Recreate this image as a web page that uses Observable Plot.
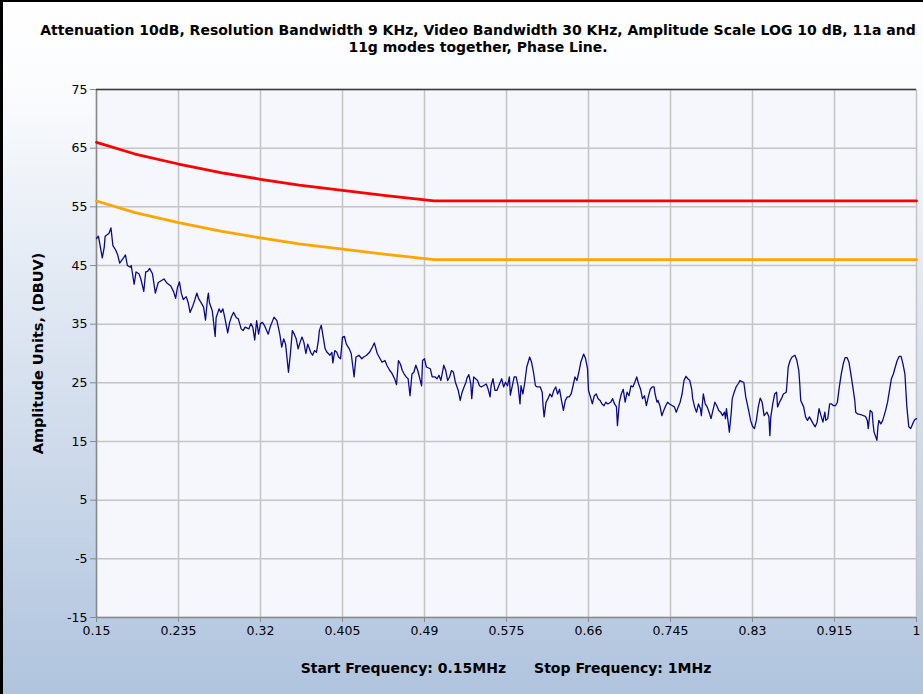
<!DOCTYPE html>
<html>
<head>
<meta charset="utf-8">
<script src="https://cdn.jsdelivr.net/npm/d3@7"></script>
<script src="https://cdn.jsdelivr.net/npm/@observablehq/plot@0.6"></script>
<style>
  html, body { margin: 0; padding: 0; background: #ffffff; }
  #panel {
    position: relative; width: 923px; height: 694px; overflow: hidden;
    background: linear-gradient(to bottom, #ffffff 0%, #fbfcfe 12%, #b0c4de 100%);
    font-family: "DejaVu Sans", sans-serif;
  }
  #edgeTop { position: absolute; left: 0; top: 0; width: 923px; height: 2px; background: #000; }
  #edgeLeft { position: absolute; left: 0; top: 0; width: 3px; height: 694px; background: #000; }
  #title {
    position: absolute; left: 0; top: 22px; width: 956px; text-align: center;
    font-weight: bold; font-size: 14px; line-height: 17px; color: #000;
  }
  #chart { position: absolute; left: 0; top: 62px; }
  #footer {
    position: absolute; left: 96px; top: 659px; width: 820px; text-align: center;
    font-weight: bold; font-size: 14px; line-height: 18px; color: #000; white-space: pre;
  }
  #footer span + span { margin-left: 28px; }
  g[aria-label="y-axis label"] text { font-weight: bold; font-size: 14.5px; }
</style>
</head>
<body>
<div id="panel">
  <div id="title">Attenuation 10dB, Resolution Bandwidth 9 KHz, Video Bandwidth 30 KHz, Amplitude Scale LOG 10 dB, 11a and<br>11g modes together, Phase Line.</div>
  <div id="chart"></div>
  <div id="footer"><span>Start Frequency: 0.15MHz</span><span>Stop Frequency: 1MHz</span></div>
  <div id="edgeTop"></div>
  <div id="edgeLeft"></div>
</div>
<script>
// Axis ticks (MHz and dBuV)
const freqTicks = [0.15, 0.235, 0.32, 0.405, 0.49, 0.575, 0.66, 0.745, 0.83, 0.915, 1];
const levelTicks = [-15, -5, 5, 15, 25, 35, 45, 55, 65, 75];

// Conducted emission limit lines (quasi-peak and average)
const limitFreq = [0.15, 0.19, 0.235, 0.28, 0.32, 0.36, 0.405, 0.45, 0.5, 1];
const quasiPeakLimit = [66, 64.0, 62.3, 60.8, 59.7, 58.7, 57.8, 56.9, 56, 56];
const averageLimit = [56, 54.0, 52.3, 50.8, 49.7, 48.7, 47.8, 46.9, 46, 46];

// Measured sweep, phase line
const traceFreq = [
  0.150, 0.152, 0.156, 0.158, 0.159, 0.163, 0.165, 0.167, 0.170, 0.172,
  0.174, 0.178, 0.180, 0.182, 0.185, 0.186, 0.189, 0.191, 0.194, 0.196,
  0.199, 0.201, 0.203, 0.205, 0.208, 0.211, 0.214, 0.217, 0.220, 0.223,
  0.227, 0.230, 0.232, 0.234, 0.236, 0.238, 0.240, 0.243, 0.245, 0.247,
  0.250, 0.252, 0.254, 0.256, 0.259, 0.261, 0.263, 0.265, 0.266, 0.267,
  0.270, 0.273, 0.274, 0.277, 0.279, 0.281, 0.283, 0.286, 0.288, 0.290,
  0.292, 0.295, 0.297, 0.300, 0.302, 0.304, 0.308, 0.310, 0.312, 0.314,
  0.316, 0.318, 0.320, 0.322, 0.324, 0.328, 0.330, 0.334, 0.337, 0.340,
  0.342, 0.344, 0.346, 0.349, 0.351, 0.353, 0.355, 0.357, 0.359, 0.361,
  0.363, 0.365, 0.367, 0.369, 0.372, 0.374, 0.376, 0.378, 0.380, 0.381,
  0.383, 0.385, 0.387, 0.389, 0.392, 0.394, 0.395, 0.397, 0.399, 0.401,
  0.403, 0.405, 0.407, 0.409, 0.412, 0.414, 0.416, 0.417, 0.419, 0.422,
  0.425, 0.427, 0.430, 0.433, 0.436, 0.438, 0.441, 0.443, 0.446, 0.449,
  0.451, 0.454, 0.456, 0.459, 0.461, 0.463, 0.465, 0.467, 0.469, 0.471,
  0.473, 0.475, 0.477, 0.479, 0.481, 0.483, 0.487, 0.488, 0.490, 0.492,
  0.496, 0.498, 0.501, 0.503, 0.505, 0.507, 0.510, 0.512, 0.514, 0.516,
  0.518, 0.520, 0.522, 0.525, 0.527, 0.529, 0.531, 0.533, 0.534, 0.536,
  0.538, 0.539, 0.541, 0.543, 0.545, 0.547, 0.549, 0.551, 0.554, 0.556,
  0.558, 0.559, 0.561, 0.563, 0.565, 0.567, 0.570, 0.572, 0.574, 0.576,
  0.578, 0.579, 0.581, 0.583, 0.585, 0.587, 0.589, 0.590, 0.592, 0.594,
  0.596, 0.598, 0.599, 0.601, 0.603, 0.605, 0.607, 0.610, 0.612, 0.613,
  0.614, 0.616, 0.618, 0.620, 0.622, 0.624, 0.626, 0.628, 0.630, 0.632,
  0.634, 0.636, 0.638, 0.640, 0.642, 0.644, 0.646, 0.648, 0.650, 0.652,
  0.655, 0.657, 0.659, 0.660, 0.662, 0.664, 0.666, 0.668, 0.670, 0.672,
  0.674, 0.676, 0.678, 0.680, 0.683, 0.685, 0.687, 0.689, 0.690, 0.692,
  0.694, 0.696, 0.698, 0.700, 0.702, 0.704, 0.706, 0.708, 0.710, 0.712,
  0.714, 0.716, 0.718, 0.720, 0.722, 0.724, 0.726, 0.728, 0.729, 0.731,
  0.732, 0.734, 0.736, 0.738, 0.740, 0.742, 0.744, 0.747, 0.749, 0.751,
  0.753, 0.755, 0.757, 0.759, 0.761, 0.763, 0.765, 0.767, 0.768, 0.770,
  0.772, 0.774, 0.776, 0.777, 0.779, 0.781, 0.783, 0.785, 0.787, 0.789,
  0.791, 0.793, 0.795, 0.797, 0.799, 0.801, 0.802, 0.803, 0.805, 0.806,
  0.808, 0.809, 0.811, 0.813, 0.815, 0.817, 0.819, 0.821, 0.823, 0.826,
  0.828, 0.830, 0.832, 0.834, 0.836, 0.838, 0.840, 0.842, 0.845, 0.847,
  0.848, 0.849, 0.851, 0.853, 0.855, 0.856, 0.858, 0.860, 0.862, 0.865,
  0.866, 0.867, 0.869, 0.871, 0.874, 0.876, 0.878, 0.879, 0.880, 0.883,
  0.885, 0.887, 0.889, 0.891, 0.893, 0.895, 0.897, 0.899, 0.901, 0.903,
  0.905, 0.906, 0.908, 0.910, 0.912, 0.914, 0.916, 0.918, 0.920, 0.922,
  0.924, 0.926, 0.928, 0.930, 0.932, 0.934, 0.936, 0.937, 0.939, 0.942,
  0.945, 0.947, 0.949, 0.950, 0.952, 0.954, 0.955, 0.956, 0.959, 0.960,
  0.961, 0.963, 0.965, 0.968, 0.970, 0.972, 0.974, 0.976, 0.978, 0.980,
  0.982, 0.984, 0.986, 0.988, 0.989, 0.990, 0.992, 0.994, 0.996, 0.998,
  1.000
];
const traceLevel = [
  49.6, 50.0, 46.3, 48.1, 50.0, 50.5, 51.4, 48.4, 47.6, 46.8,
  45.4, 46.3, 46.8, 45.0, 44.7, 45.0, 41.8, 43.9, 43.6, 42.7,
  40.6, 43.9, 44.0, 44.5, 43.6, 40.3, 42.1, 42.4, 42.7, 42.0,
  41.5, 40.5, 39.4, 41.3, 42.2, 40.2, 39.2, 39.7, 38.7, 37.0,
  38.2, 39.2, 40.3, 39.3, 38.5, 37.9, 35.7, 39.3, 40.3, 38.7,
  37.3, 32.9, 36.1, 37.6, 37.0, 37.6, 36.1, 33.5, 35.3, 36.3,
  37.0, 36.1, 35.9, 34.2, 33.9, 34.5, 34.2, 35.1, 34.5, 32.3,
  35.6, 33.3, 35.1, 35.3, 34.8, 33.3, 34.5, 36.2, 35.6, 33.3,
  31.1, 32.5, 31.6, 26.8, 30.0, 33.9, 33.3, 32.5, 30.8, 31.9,
  32.8, 31.9, 30.0, 31.6, 30.2, 29.7, 30.5, 30.2, 32.2, 33.9,
  34.8, 32.8, 30.8, 30.2, 29.7, 30.2, 28.4, 30.5, 30.2, 29.4,
  29.1, 32.8, 32.9, 31.6, 30.8, 30.0, 27.4, 26.0, 29.4, 29.7,
  29.1, 29.4, 29.7, 30.2, 31.1, 31.8, 30.0, 29.4, 28.5, 28.8,
  28.0, 27.1, 26.7, 25.7, 24.7, 28.8, 28.2, 27.1, 26.5, 26.0,
  25.7, 22.8, 26.5, 26.8, 28.0, 27.1, 24.5, 28.8, 29.1, 27.7,
  27.4, 26.0, 26.0, 25.7, 26.3, 25.4, 28.0, 27.1, 25.4, 26.0,
  27.1, 26.8, 25.1, 23.7, 22.0, 23.4, 24.3, 25.1, 25.8, 26.4,
  24.8, 22.3, 26.0, 25.7, 25.4, 24.5, 24.3, 24.5, 24.8, 23.9,
  22.6, 24.5, 25.7, 23.7, 23.7, 24.5, 25.7, 24.3, 25.1, 24.5,
  26.0, 22.9, 24.5, 26.0, 26.0, 24.5, 21.4, 24.5, 23.1, 25.1,
  27.7, 28.8, 29.4, 28.5, 26.8, 24.5, 24.3, 24.3, 23.4, 20.9,
  19.2, 21.7, 22.3, 23.1, 22.6, 23.7, 24.3, 23.1, 23.9, 22.0,
  20.3, 22.0, 22.6, 22.6, 23.1, 24.5, 26.0, 25.4, 26.8, 28.5,
  29.9, 29.1, 27.4, 23.7, 22.6, 21.4, 22.8, 23.1, 22.3, 22.0,
  21.4, 21.1, 21.7, 21.4, 21.7, 22.3, 21.4, 20.9, 17.7, 21.7,
  23.1, 23.9, 21.7, 23.4, 22.8, 24.5, 24.3, 25.1, 26.0, 24.8,
  23.9, 22.3, 22.8, 21.1, 22.6, 23.9, 24.3, 24.3, 23.1, 21.7,
  22.0, 21.1, 19.4, 20.3, 21.1, 21.7, 21.4, 21.1, 20.9, 20.0,
  20.9, 21.7, 23.1, 25.4, 26.1, 25.7, 25.4, 23.9, 22.3, 20.9,
  20.0, 21.4, 20.6, 19.4, 23.1, 21.4, 20.9, 20.0, 18.9, 20.3,
  21.7, 21.1, 20.3, 20.0, 19.4, 20.0, 18.9, 20.6, 18.0, 16.6,
  20.0, 22.3, 23.4, 24.3, 24.8, 25.4, 25.2, 25.1, 22.6, 20.3,
  18.6, 17.6, 17.2, 18.6, 20.9, 22.4, 21.7, 19.4, 20.0, 19.2,
  16.0, 19.2, 21.4, 23.1, 23.4, 20.9, 21.7, 22.3, 23.1, 23.4,
  25.4, 27.7, 28.8, 29.4, 29.7, 28.8, 27.1, 24.8, 22.0, 20.9,
  19.2, 18.6, 19.2, 18.6, 18.0, 17.5, 18.3, 20.6, 19.4, 18.3,
  20.0, 18.6, 18.9, 21.4, 21.4, 21.1, 21.1, 21.7, 24.3, 26.5,
  28.2, 29.3, 29.3, 28.5, 26.5, 24.3, 22.0, 20.0, 19.7, 19.6,
  19.4, 19.3, 18.6, 17.2, 20.3, 20.0, 18.0, 16.6, 15.2, 17.5,
  18.6, 18.0, 18.6, 20.3, 21.7, 23.7, 25.7, 26.5, 27.7, 28.8,
  29.5, 29.5, 28.2, 26.5, 23.7, 20.9, 17.5, 17.2, 18.0, 18.7,
  18.9
];

const limits = limitFreq.map((f, i) => ({f, qp: quasiPeakLimit[i], av: averageLimit[i]}));
const trace = traceFreq.map((f, i) => ({f, v: traceLevel[i]}));

const chart = Plot.plot({
  width: 923,
  height: 588,
  marginTop: 27,
  marginLeft: 96,
  marginRight: 7,
  marginBottom: 33,
  style: {
    background: "transparent",
    fontFamily: "'DejaVu Sans', sans-serif",
    fontSize: "12.5px",
    color: "#000",
    overflow: "visible"
  },
  x: {domain: [0.15, 1]},
  y: {domain: [-15, 75]},
  marks: [
    Plot.frame({fill: "#f6f7fd", stroke: null}),
    Plot.gridX(freqTicks, {stroke: "#c4c4c4", strokeOpacity: 1, strokeWidth: 1.5}),
    Plot.gridY(levelTicks, {stroke: "#c4c4c4", strokeOpacity: 1, strokeWidth: 1.5}),
    Plot.ruleX([0.15], {stroke: "#8a8a8a", strokeWidth: 1.5}),
    Plot.ruleY([-15], {stroke: "#8a8a8a", strokeWidth: 1.5}),
    Plot.ruleY([75], {stroke: "#3a3a3a", strokeWidth: 1.5}),
    Plot.axisX(freqTicks, {
      tickSize: 5, tickPadding: 4, stroke: "#8a8a8a",
      tickFormat: (d) => String(d), label: null
    }),
    Plot.axisY(levelTicks, {
      tickSize: 6, tickPadding: 3, stroke: "#8a8a8a",
      tickFormat: (d) => String(d),
      label: "Amplitude Units, (DBUV)", labelAnchor: "center", labelArrow: "none", labelOffset: 64
    }),
    Plot.line(limits, {x: "f", y: "qp", stroke: "#ff0000", strokeWidth: 2.8}),
    Plot.line(limits, {x: "f", y: "av", stroke: "#ffa500", strokeWidth: 2.8}),
    Plot.line(trace, {x: "f", y: "v", stroke: "#0a0a8a", strokeWidth: 1.3})
  ]
});
document.getElementById("chart").appendChild(chart);
</script>
</body>
</html>
